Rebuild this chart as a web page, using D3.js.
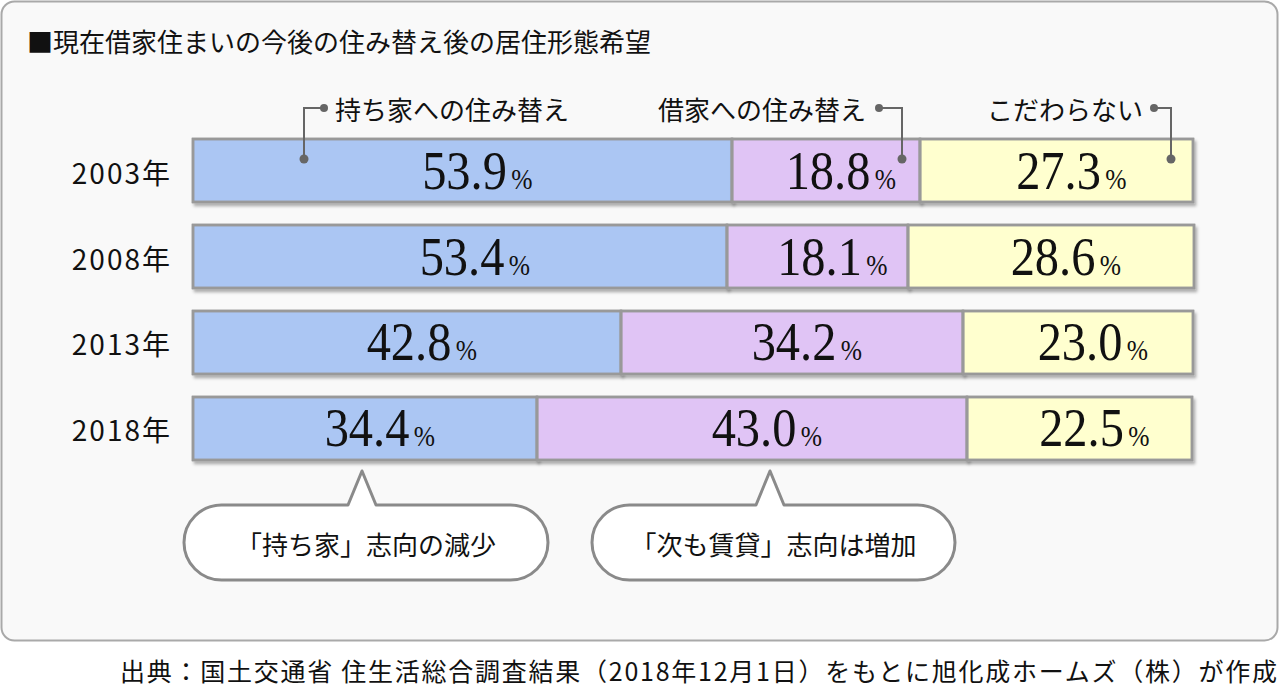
<!DOCTYPE html>
<html>
<head>
<meta charset="utf-8">
<script src="https://cdn.jsdelivr.net/npm/d3@7"></script>
<style>
  html, body { margin: 0; padding: 0; background: #fff; }
  svg { display: block; }
  .jp { font-family: "Noto Sans CJK JP", "Noto Sans", sans-serif; fill: #111; }
  .num { font-family: "Liberation Serif", "DejaVu Serif", serif; fill: #111; }
</style>
</head>
<body>
<div id="chart"></div>
<script>
// Data
const years = ['2003年', '2008年', '2013年', '2018年'];
const categories = ['持ち家への住み替え', '借家への住み替え', 'こだわらない'];
const ownHome = [53.9, 53.4, 42.8, 34.4];
const rental = [18.8, 18.1, 34.2, 43.0];
const noPref = [27.3, 28.6, 23.0, 22.5];
const callouts = ['「持ち家」志向の減少', '「次も賃貸」志向は増加'];

const titleText = '■現在借家住まいの今後の住み替え後の居住形態希望';
const sourceText = '出典：国土交通省 住生活総合調査結果（2018年12月1日）をもとに旭化成ホームズ（株）が作成';

const colors = ['#abc6f3', '#e0c4f5', '#ffffcf'];

const width = 1280;
const height = 694;

const svg = d3.select('#chart')
  .append('svg')
  .attr('width', width)
  .attr('height', height);

// drop shadow for the bars
const defs = svg.append('defs');
const shadow = defs.append('filter')
  .attr('id', 'shadow')
  .attr('x', '-5%').attr('y', '-20%')
  .attr('width', '110%').attr('height', '150%');
shadow.append('feDropShadow')
  .attr('dx', 2).attr('dy', 3)
  .attr('stdDeviation', 1.5)
  .attr('flood-color', '#000')
  .attr('flood-opacity', 0.3);

// Panel
svg.append('rect')
  .attr('x', 1.5).attr('y', 1.5)
  .attr('width', 1276).attr('height', 639)
  .attr('rx', 13)
  .attr('fill', '#f9f9f9')
  .attr('stroke', '#a9a9a9')
  .attr('stroke-width', 2);

svg.append('text')
  .attr('class', 'jp')
  .attr('x', 27).attr('y', 40)
  .attr('dominant-baseline', 'central')
  .style('font-size', '26px')
  .text(titleText);

// Scales
const x = d3.scaleLinear().domain([0, 100]).range([193, 1193]);
const y = d3.scaleBand()
  .domain(years)
  .range([139, 460])
  .paddingInner(0.2674)
  .paddingOuter(0);

// stack the series
const rows = years.map((yr, i) => ({ year: yr, values: [ownHome[i], rental[i], noPref[i]] }));
const stack = d3.stack().keys([0, 1, 2]).value((d, k) => d.values[k]);
const series = stack(rows);

// Year labels
svg.append('g')
  .selectAll('text')
  .data(years)
  .join('text')
  .attr('class', 'jp')
  .attr('x', 172)
  .attr('y', (d) => y(d) + y.bandwidth() / 2 + 1)
  .attr('text-anchor', 'end')
  .attr('dominant-baseline', 'central')
  .style('font-size', '28px')
  .style('letter-spacing', '2px')
  .text((d) => d);

// Bars
const barGroup = svg.append('g');
series.forEach((s, k) => {
  barGroup.append('g')
    .selectAll('rect')
    .data(s)
    .join('rect')
    .attr('x', (d) => x(d[0]))
    .attr('y', (d) => y(d.data.year))
    .attr('width', (d) => x(d[1]) - x(d[0]))
    .attr('height', y.bandwidth())
    .attr('fill', colors[k])
    .attr('stroke', '#999')
    .attr('stroke-width', 2.5)
    .attr('filter', 'url(#shadow)');
});
// redraw outlines on top so shadows don't cover the edges
series.forEach((s) => {
  barGroup.append('g')
    .selectAll('rect')
    .data(s)
    .join('rect')
    .attr('x', (d) => x(d[0]))
    .attr('y', (d) => y(d.data.year))
    .attr('width', (d) => x(d[1]) - x(d[0]))
    .attr('height', y.bandwidth())
    .attr('fill', 'none')
    .attr('stroke', '#999')
    .attr('stroke-width', 2.5);
});

// Value labels: number centered on the segment, small % appended
const labelGroup = svg.append('g');
series.forEach((s) => {
  s.forEach((d) => {
    const val = d[1] - d[0];
    const cx = (x(d[0]) + x(d[1])) / 2 + 2;
    const cy = y(d.data.year) + y.bandwidth() / 2 + 18;
    const g = labelGroup.append('g')
      .attr('transform', `translate(${cx},${cy}) scale(0.88,1)`);
    const num = g.append('text')
      .attr('class', 'num')
      .attr('text-anchor', 'middle')
      .style('font-size', '55px')
      .text(val.toFixed(1));
    const w = num.node().getComputedTextLength();
    g.append('text')
      .attr('class', 'num')
      .attr('x', w / 2 + 5)
      .style('font-size', '29px')
      .text('%');
  });
});

// Legend labels with leader lines
const legendY = 108;
const dotY = 159;
const legend = [
  { anchor: 'start', tx: 335, dot: 324, lineX: 304 },
  { anchor: 'end', tx: 866, dot: 879, lineX: 902 },
  { anchor: 'end', tx: 1143, dot: 1154, lineX: 1171 }
];
const legendGroup = svg.append('g');
categories.forEach((c, i) => {
  const l = legend[i];
  legendGroup.append('text')
    .attr('class', 'jp')
    .attr('x', l.tx)
    .attr('y', legendY)
    .attr('text-anchor', l.anchor)
    .attr('dominant-baseline', 'central')
    .style('font-size', '26px')
    .text(c);
  legendGroup.append('path')
    .attr('d', `M${l.dot},${legendY}H${l.lineX}V${dotY}`)
    .attr('fill', 'none')
    .attr('stroke', '#666')
    .attr('stroke-width', 2);
  legendGroup.append('circle')
    .attr('cx', l.dot).attr('cy', legendY).attr('r', 4)
    .attr('fill', '#666');
  legendGroup.append('circle')
    .attr('cx', l.lineX).attr('cy', dotY).attr('r', 4.5)
    .attr('fill', '#666');
});

// Callout bubbles
const bubbles = [
  { x: 184, w: 364, tip: 362 },
  { x: 592, w: 363, tip: 770 }
];
const bTop = 505;
const bH = 75;
const tipY = 471;
const r = bH / 2;
callouts.forEach((t, i) => {
  const b = bubbles[i];
  const x0 = b.x, x1 = b.x + b.w, y0 = bTop, y1 = bTop + bH;
  const path = [
    `M${x0 + r},${y0}`,
    `H${b.tip - 14}`,
    `L${b.tip},${tipY}`,
    `L${b.tip + 14},${y0}`,
    `H${x1 - r}`,
    `A${r},${r} 0 0 1 ${x1},${y0 + r}`,
    `A${r},${r} 0 0 1 ${x1 - r},${y1}`,
    `H${x0 + r}`,
    `A${r},${r} 0 0 1 ${x0},${y0 + r}`,
    `A${r},${r} 0 0 1 ${x0 + r},${y0}`,
    'Z'
  ].join('');
  svg.append('path')
    .attr('d', path)
    .attr('fill', '#fff')
    .attr('stroke', '#8a8a8a')
    .attr('stroke-width', 3)
    .attr('stroke-linejoin', 'round');
  svg.append('text')
    .attr('class', 'jp')
    .attr('x', x0 + b.w / 2)
    .attr('y', y0 + bH / 2 + 1)
    .attr('text-anchor', 'middle')
    .attr('dominant-baseline', 'central')
    .style('font-size', '26px')
    .text(t);
});

// Source
svg.append('text')
  .attr('class', 'jp')
  .attr('x', 120)
  .attr('y', 670)
  .attr('dominant-baseline', 'central')
  .attr('textLength', 1157)
  .attr('lengthAdjust', 'spacing')
  .style('font-size', '25px')
  .text(sourceText);
</script>
</body>
</html>
